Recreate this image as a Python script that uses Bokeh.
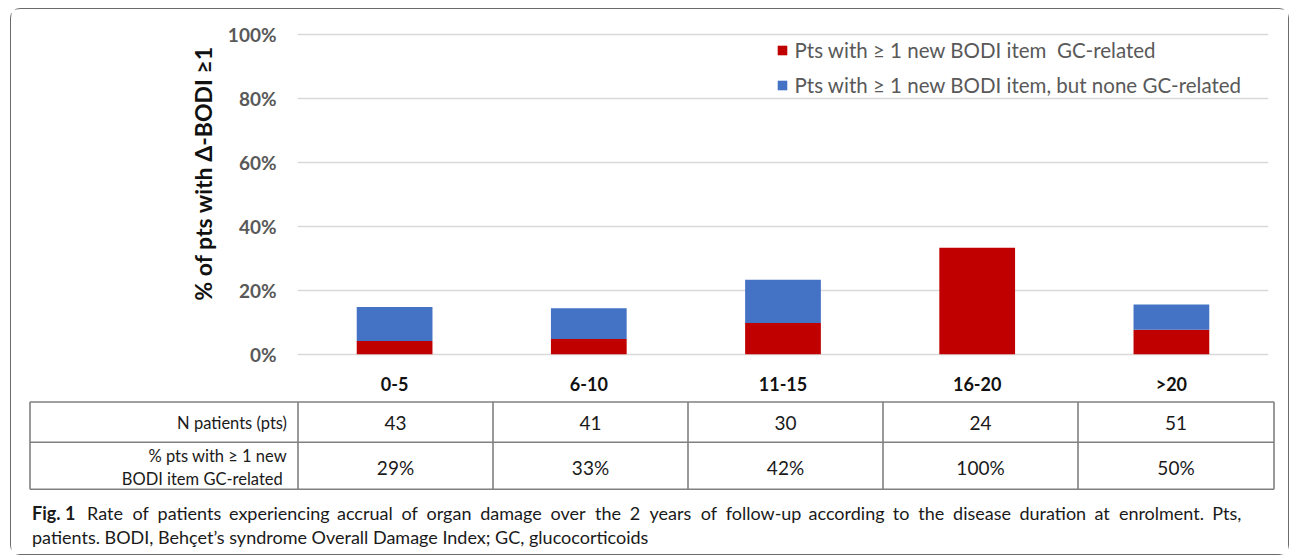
from bokeh.plotting import figure
from bokeh.models import (FactorRange, Range1d, ColumnDataSource, Title,
                          PrintfTickFormatter, FixedTicker)
from bokeh.layouts import column
from bokeh.core.properties import value
from bokeh.embed import file_html
from bokeh.resources import INLINE

# ---------------- data ----------------
categories = ["0-5", "6-10", "11-15", "16-20", ">20"]
gc_related = [4.2, 4.8, 9.8, 33.3, 7.7]          # % pts, new BODI item GC-related
not_gc_related = [10.6, 9.6, 13.5, 0.0, 7.9]     # % pts, new BODI item, none GC-related
n_patients = [43, 41, 30, 24, 51]
pct_gc_related = ["29%", "33%", "42%", "100%", "50%"]
y_ticks = [0, 20, 40, 60, 80, 100]
legend_labels = ["Pts with \u2265 1 new BODI item  GC-related",
                 "Pts with \u2265 1 new BODI item, but none GC-related"]
row_labels = ["N patients (pts)", "% pts with \u2265 1 new", "BODI item  GC-related"]
caption_bold = "Fig. 1"
caption_lines = ["Rate of patients experiencing accrual of organ damage over the 2 years of follow-up according to the disease duration at enrolment. Pts,",
                 "patients. BODI, Beh\u00e7et\u2019s syndrome Overall Damage Index; GC, glucocorticoids"]
y_title = "% of pts with \u0394-BODI \u22651"

RED = "#C00000"
BLUE = "#4472C4"
FONT = "Lato"
W_CONTENT = 1277

# ---------------- chart ----------------
p = figure(width=W_CONTENT, height=388,
           x_range=FactorRange(*categories, range_padding=0),
           y_range=Range1d(-1, 101),
           output_backend="svg", toolbar_location=None,
           min_border_left=286, min_border_right=20,
           min_border_top=22, min_border_bottom=40)
p.frame_align = False

src = ColumnDataSource(dict(cat=categories, gc=gc_related, other=not_gc_related))
p.vbar_stack(["gc", "other"], x="cat", width=0.39, color=[RED, BLUE],
             line_color=None, source=src, legend_label=legend_labels)

p.outline_line_color = None
p.xgrid.grid_line_color = None
p.ygrid.ticker = FixedTicker(ticks=y_ticks)
p.ygrid.grid_line_color = "#d9d9d9"
p.ygrid.grid_line_width = 1.4

for ax in (p.xaxis[0], p.yaxis[0]):
    ax.axis_line_color = None
    ax.major_tick_line_color = None
    ax.minor_tick_line_color = None
    ax.major_tick_in = 0
    ax.major_tick_out = 0
    ax.major_label_text_font = FONT
    ax.major_label_text_font_style = "bold"

p.yaxis.ticker = FixedTicker(ticks=y_ticks)
p.yaxis.formatter = PrintfTickFormatter(format="%d%%")
p.yaxis.major_label_text_font_size = "19px"
p.yaxis.major_label_text_color = "#595959"
p.yaxis.major_label_standoff = 21

p.xaxis.major_label_text_font_size = "18px"
p.xaxis.major_label_text_color = "#111111"
p.xaxis.major_label_standoff = 15

leg = p.legend[0]
leg.location = (478.5, 259.5)
leg.glyph_width = 12
leg.glyph_height = 12
leg.label_height = 26
leg.label_standoff = 7
leg.spacing = 9
leg.padding = 0
leg.margin = 0
leg.border_line_color = None
leg.background_fill_alpha = 0
leg.label_text_font = FONT
leg.label_text_font_size = "20.5px"
leg.label_text_color = "#595959"

p.add_layout(Title(text=y_title, align="right", offset=14.5, vertical_align="middle",
                   text_font=FONT, text_font_style="bold", text_font_size="23px",
                   text_color="#111111", standoff=13), "left")

# ---------------- table + caption ----------------
t = figure(width=W_CONTENT, height=157, x_range=Range1d(0, W_CONTENT), y_range=Range1d(157, 0),
           output_backend="svg", toolbar_location=None, min_border=0,
           x_axis_location=None, y_axis_location=None)
t.frame_align = False
t.outline_line_color = None
t.grid.visible = False

n = len(categories)
left, first_div, col_w, right = 18.5, 286.5, 195.0, 1262.5
top, mid, bottom = 4.5, 44.8, 91.8
col_edges = [first_div + col_w * i for i in range(n)] + [right]
centers = [(col_edges[i] + col_edges[i + 1]) / 2 for i in range(n)]

hy = [top, mid, bottom]
t.segment(x0=[left] * 3, y0=hy, x1=[right] * 3, y1=hy, line_color="#808080", line_width=1.6)
vx = [left] + col_edges
t.segment(x0=vx, y0=[top] * len(vx), x1=vx, y1=[bottom] * len(vx),
          line_color="#808080", line_width=1.6)

t.text(x=[275.5] * 3, y=[25.5, 58.5, 81.5], text=row_labels, text_align="right",
       text_baseline="middle", text_font=value(FONT), text_font_size="16.5px",
       text_color="#1a1a1a")
t.text(x=centers, y=[25.5] * n, text=[str(v) for v in n_patients], text_align="center",
       text_baseline="middle", text_font=value(FONT), text_font_size="19px",
       text_color="#1a1a1a")
t.text(x=centers, y=[69.5] * n, text=pct_gc_related, text_align="center",
       text_baseline="middle", text_font=value(FONT), text_font_size="19px",
       text_color="#1a1a1a")

# caption: bold lead + justified first line
CAP_FS = 18
CW = {" ": 0.193, ".": 0.21, ",": 0.21, ";": 0.23, "-": 0.33, "\u2019": 0.2,
      "a": 0.497, "b": 0.552, "c": 0.459, "d": 0.552, "e": 0.519, "f": 0.317,
      "g": 0.49, "h": 0.55, "i": 0.233, "j": 0.233, "k": 0.507, "l": 0.233,
      "m": 0.828, "n": 0.55, "o": 0.551, "p": 0.544, "q": 0.552, "r": 0.367,
      "s": 0.422, "t": 0.34, "u": 0.55, "v": 0.51, "w": 0.77, "x": 0.49,
      "y": 0.51, "z": 0.44}


def est_w(s):
    return sum(CW.get(c, 0.58 if c.isdigit() else 0.65) for c in s) * CAP_FS


t.text(x=[20.5], y=[115.5], text=[caption_bold], text_align="left",
       text_baseline="middle", text_font=value(FONT), text_font_style="bold",
       text_font_size="18px", text_color="#1a1a1a")

words = caption_lines[0].split(" ")
x_start, x_end = 75.5, 1230.0
nat = [est_w(w) for w in words]
gap = max((x_end - x_start - sum(nat)) / (len(words) - 1), est_w(" "))
wx = []
cur = x_start
for w_ in nat:
    wx.append(cur)
    cur += w_ + gap
t.text(x=wx, y=[115.5] * len(words), text=words, text_align="left",
       text_baseline="middle", text_font=value(FONT), text_font_size=f"{CAP_FS}px",
       text_color="#1a1a1a")
t.text(x=[20.5], y=[139.5], text=[caption_lines[1]], text_align="left",
       text_baseline="middle", text_font=value(FONT), text_font_size=f"{CAP_FS}px",
       text_color="#1a1a1a")

layout = column(p, t, styles={"border": "1.5px solid #6b6b6b", "border-radius": "10px",
                              "margin-left": "10px", "margin-top": "8px"})

open("out.html", "w").write(file_html(layout, INLINE))
